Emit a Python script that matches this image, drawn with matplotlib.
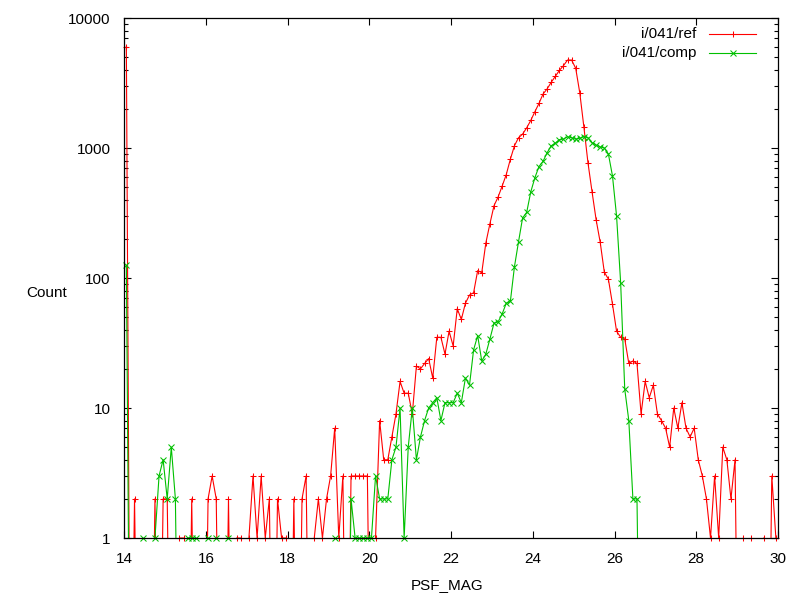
import numpy as np
import matplotlib.pyplot as plt
from matplotlib.ticker import LogLocator, NullFormatter

# histogram bins: 0.1 mag wide, from 14 to 30
bin_start = 14.0
bin_width = 0.1
n_bins = 160

# counts per bin, one row per magnitude (x.05 ... x.95)
ref_counts = [
    6000, 0, 2, 0, 0, 0, 0, 2, 0, 2,          # 14
    2, 0, 0, 1, 1, 0, 2, 0, 0, 0,             # 15
    2, 3, 2, 0, 0, 2, 0, 1, 1, 0,             # 16
    1, 3, 1, 3, 1, 2, 0, 2, 1, 1,             # 17
    0, 2, 0, 2, 3, 0, 1, 2, 1, 2,             # 18
    3, 7, 1, 3, 0, 3, 3, 3, 3, 3,             # 19
    0, 1, 8, 4, 4, 6, 9, 16, 13, 13,          # 20
    9, 21, 20, 22, 24, 17, 35, 35, 26, 39,    # 21
    30, 58, 48, 64, 74, 77, 114, 110, 186, 262,            # 22
    360, 420, 510, 625, 820, 1040, 1200, 1280, 1430, 1630,  # 23
    1900, 2200, 2600, 2850, 3200, 3550, 3950, 4300, 4750, 4750,  # 24
    4100, 2650, 1450, 770, 460, 280, 188, 111, 98, 63,     # 25
    39, 35, 34, 22, 23, 22, 9, 16, 12, 15,    # 26
    9, 8, 7, 5, 10, 7, 11, 7, 6, 7,           # 27
    4, 3, 2, 1, 3, 1, 5, 4, 2, 4,             # 28
    0, 1, 0, 1, 0, 0, 1, 0, 3, 1,             # 29
]

comp_counts = [
    125, 0, 0, 0, 1, 0, 0, 1, 3, 4,           # 14
    2, 5, 2, 0, 0, 1, 1, 1, 0, 0,             # 15
    1, 0, 1, 0, 0, 1, 0, 0, 0, 0,             # 16
    0, 0, 0, 0, 0, 0, 0, 0, 0, 0,             # 17
    0, 0, 0, 0, 0, 0, 0, 0, 0, 0,             # 18
    0, 1, 0, 0, 0, 2, 1, 1, 1, 1,             # 19
    1, 3, 2, 2, 2, 4, 5, 10, 1, 5,            # 20
    10, 4, 6, 8, 10, 11, 12, 8, 11, 11,       # 21
    11, 13, 11, 17, 15, 28, 36, 23, 26, 34,   # 22
    45, 46, 53, 64, 66, 122, 190, 290, 320, 460,           # 23
    590, 720, 790, 920, 1040, 1090, 1160, 1170, 1220, 1200,  # 24
    1170, 1190, 1220, 1200, 1100, 1050, 1020, 1000, 900, 610,  # 25
    300, 92, 14, 8, 2, 2, 0, 0, 0, 0,         # 26
    0, 0, 0, 0, 0, 0, 0, 0, 0, 0,             # 27
    0, 0, 0, 0, 0, 0, 0, 0, 0, 0,             # 28
    0, 0, 0, 0, 0, 0, 0, 0, 0, 0,             # 29
]

series_labels = ["i/041/ref", "i/041/comp"]
x_ticks = [14, 16, 18, 20, 22, 24, 26, 28, 30]
y_ticks = [1, 10, 100, 1000, 10000]

bins = bin_start + bin_width * (np.arange(n_bins) + 0.5)

plt.rcParams['font.family'] = ['Liberation Sans', 'DejaVu Sans']
fig = plt.figure(figsize=(8, 6), dpi=100)
ax = fig.add_axes([0.1554, 0.1033, 0.8170, 0.8667])

colors = ['#ff0000', '#00c000']
markers = ['+', 'x']
for counts, col, mk in zip([ref_counts, comp_counts], colors, markers):
    v = np.array(counts, dtype=float)
    # empty bins drop off the bottom of the log axis like in gnuplot
    line_v = np.where(v > 0, v, 1e-2)
    ax.plot(bins, line_v, color=col, lw=0.8)
    keep = v >= 1
    ax.plot(bins[keep], v[keep], ls='none', marker=mk, color=col,
            ms=5, mew=0.75, clip_on=False)

ax.set_yscale('log')
ax.set_xlim(14, 30)
ax.set_ylim(1, 10000)
ax.set_xticks(x_ticks)
ax.set_xticklabels([str(t) for t in x_ticks])
ax.set_yticks(y_ticks)
ax.set_yticklabels([str(t) for t in y_ticks])
ax.yaxis.set_minor_locator(LogLocator(base=10, subs=np.arange(2, 10)))
ax.yaxis.set_minor_formatter(NullFormatter())
ax.tick_params(which='both', direction='in', top=True, right=True, labelsize=11)
ax.tick_params(axis='y', pad=10)
ax.tick_params(axis='x', pad=10)
ax.tick_params(which='major', length=5, width=0.8)
ax.tick_params(which='minor', length=3, width=0.8)
for s in ax.spines.values():
    s.set_linewidth(0.9)

fig.text(447 / 800, 1 - 585 / 600, "PSF_MAG", fontsize=11, ha='center', va='center')
fig.text(47 / 800, 1 - 293 / 600, "Count", fontsize=11, ha='center', va='center')

# gnuplot style key: right aligned text, sample line to the right
for i, (lab, col, mk) in enumerate(zip(series_labels, colors, markers)):
    yk = 0.969 - i * 0.036
    ax.text(0.876, yk, lab, transform=ax.transAxes, ha='right', va='center', fontsize=11)
    ax.plot([0.8947, 0.9667], [yk, yk], transform=ax.transAxes, color=col, lw=0.8)
    ax.plot([0.931], [yk], transform=ax.transAxes, color=col, marker=mk, ms=5, mew=0.75)

fig.savefig("out.png", dpi=100)
